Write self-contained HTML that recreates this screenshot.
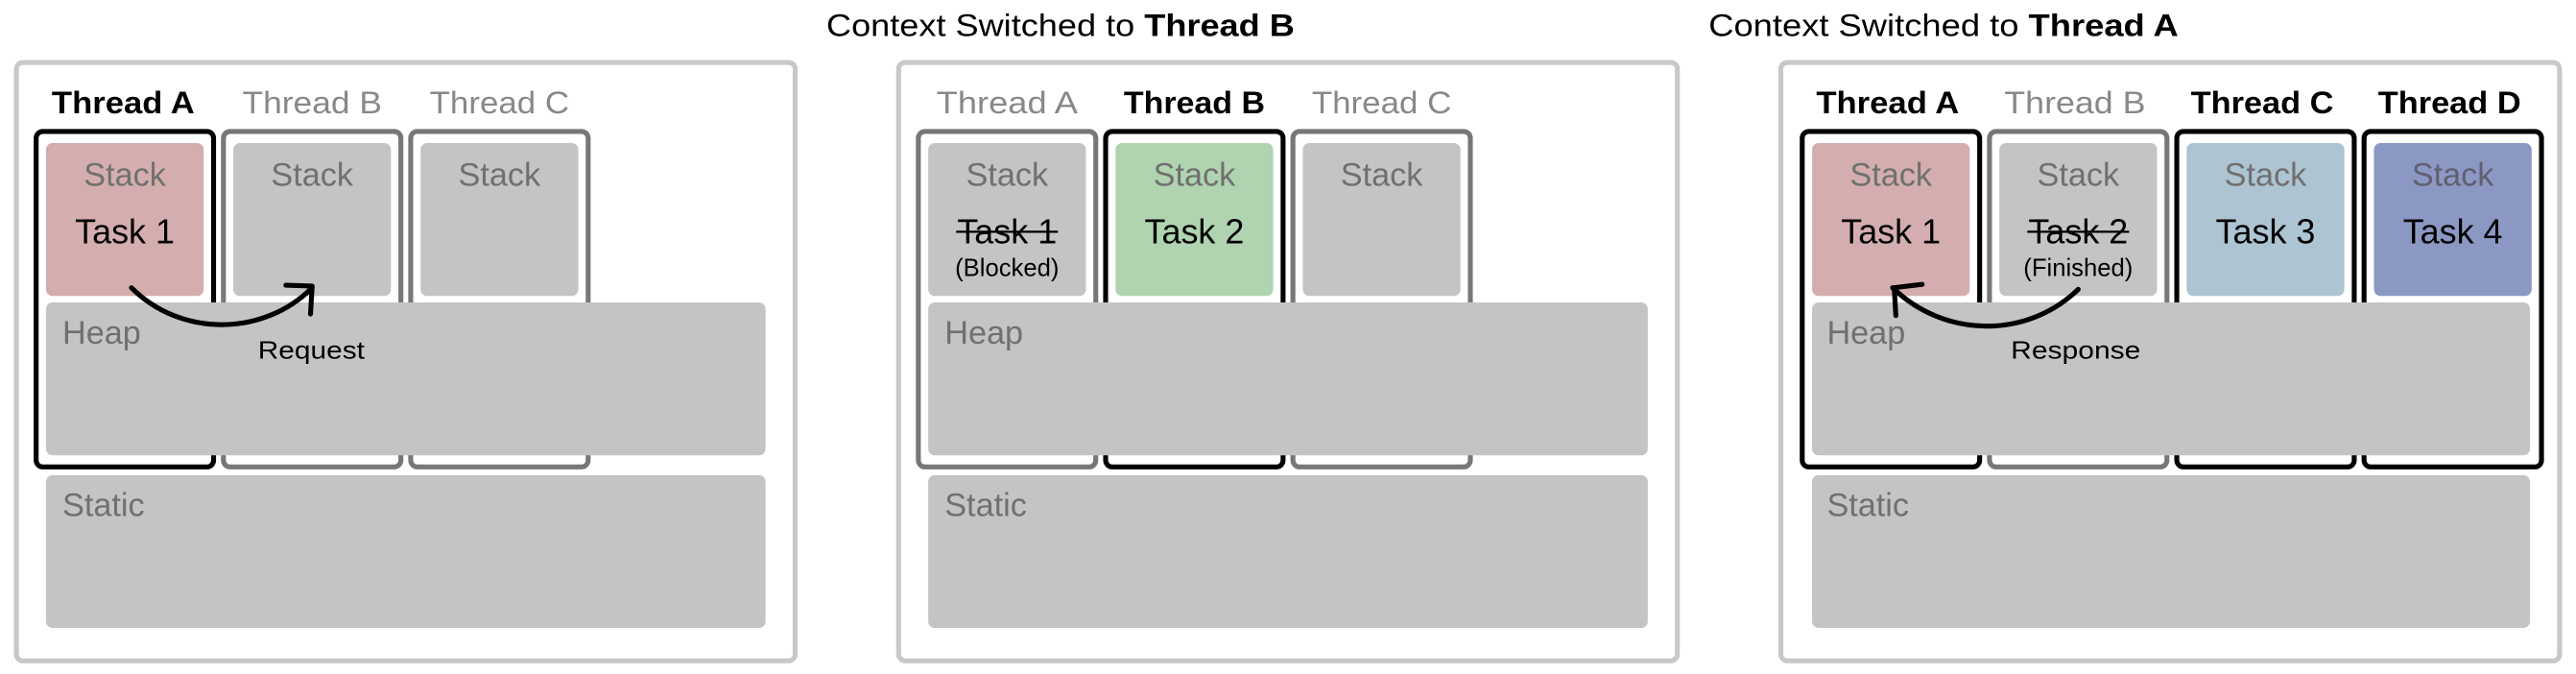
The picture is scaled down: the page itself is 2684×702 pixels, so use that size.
<!DOCTYPE html>
<html><head><meta charset="utf-8"><style>
html,body{margin:0;padding:0;background:#fff;}
svg{display:block;font-family:"Liberation Sans",sans-serif;}
</style></head><body>
<svg width="2684" height="702" viewBox="0 0 1568 410" preserveAspectRatio="none" xmlns="http://www.w3.org/2000/svg">
<rect width="1568" height="410" fill="#fff"/>
<!-- titles -->
<text x="503" y="22" font-size="19" fill="#000" textLength="285" lengthAdjust="spacingAndGlyphs">Context Switched to <tspan font-weight="bold">Thread B</tspan></text>
<text x="1040" y="22" font-size="19" fill="#000" textLength="286" lengthAdjust="spacingAndGlyphs">Context Switched to <tspan font-weight="bold">Thread A</tspan></text>

<!-- PANEL 1 -->
<g>
<rect x="10" y="38" width="474" height="364" rx="4" fill="#fff" stroke="#c8c8c8" stroke-width="3"/>
<text x="75" y="69" font-size="19" font-weight="bold" text-anchor="middle" textLength="87" lengthAdjust="spacingAndGlyphs">Thread A</text>
<text x="190" y="69" font-size="19" fill="#888" text-anchor="middle" textLength="85" lengthAdjust="spacingAndGlyphs">Thread B</text>
<text x="304" y="69" font-size="19" fill="#888" text-anchor="middle" textLength="85" lengthAdjust="spacingAndGlyphs">Thread C</text>
<rect x="22" y="80" width="108" height="204" rx="4" fill="#fff" stroke="#000" stroke-width="3"/>
<rect x="136" y="80" width="108" height="204" rx="4" fill="#fff" stroke="#777" stroke-width="3"/>
<rect x="250" y="80" width="108" height="204" rx="4" fill="#fff" stroke="#777" stroke-width="3"/>
<rect x="28" y="87" width="96" height="93" rx="4" fill="#d4aeae"/>
<rect x="142" y="87" width="96" height="93" rx="4" fill="#c4c4c4"/>
<rect x="256" y="87" width="96" height="93" rx="4" fill="#c4c4c4"/>
<text x="76" y="113" font-size="20" fill="#707070" text-anchor="middle">Stack</text>
<text x="190" y="113" font-size="20" fill="#707070" text-anchor="middle">Stack</text>
<text x="304" y="113" font-size="20" fill="#707070" text-anchor="middle">Stack</text>
<text x="76" y="148" font-size="21" fill="#000" text-anchor="middle">Task 1</text>
<rect x="28" y="184" width="438" height="93" rx="4" fill="#c4c4c4"/>
<rect x="28" y="289" width="438" height="93" rx="4" fill="#c4c4c4"/>
<text x="38" y="209" font-size="20" fill="#707070">Heap</text>
<text x="38" y="314" font-size="20" fill="#707070">Static</text>
<text x="157" y="218" font-size="15" fill="#000" textLength="65" lengthAdjust="spacingAndGlyphs">Request</text>
<path d="M80,175 C110,205 160,205 190,175" fill="none" stroke="#000" stroke-width="3" stroke-linecap="round"/>
<path d="M174,173.5 L190,174 L189,191" fill="none" stroke="#000" stroke-width="3" stroke-linecap="round" stroke-linejoin="round"/>
</g>

<!-- PANEL 2 -->
<g transform="translate(537,0)">
<rect x="10" y="38" width="474" height="364" rx="4" fill="#fff" stroke="#c8c8c8" stroke-width="3"/>
<text x="76" y="69" font-size="19" fill="#888" text-anchor="middle" textLength="86" lengthAdjust="spacingAndGlyphs">Thread A</text>
<text x="190" y="69" font-size="19" font-weight="bold" text-anchor="middle" textLength="86" lengthAdjust="spacingAndGlyphs">Thread B</text>
<text x="304" y="69" font-size="19" fill="#888" text-anchor="middle" textLength="85" lengthAdjust="spacingAndGlyphs">Thread C</text>
<rect x="22" y="80" width="108" height="204" rx="4" fill="#fff" stroke="#777" stroke-width="3"/>
<rect x="136" y="80" width="108" height="204" rx="4" fill="#fff" stroke="#000" stroke-width="3"/>
<rect x="250" y="80" width="108" height="204" rx="4" fill="#fff" stroke="#777" stroke-width="3"/>
<rect x="28" y="87" width="96" height="93" rx="4" fill="#c4c4c4"/>
<rect x="142" y="87" width="96" height="93" rx="4" fill="#b0d4b0"/>
<rect x="256" y="87" width="96" height="93" rx="4" fill="#c4c4c4"/>
<text x="76" y="113" font-size="20" fill="#707070" text-anchor="middle">Stack</text>
<text x="190" y="113" font-size="20" fill="#707070" text-anchor="middle">Stack</text>
<text x="304" y="113" font-size="20" fill="#707070" text-anchor="middle">Stack</text>
<text x="76" y="148" font-size="21" fill="#000" text-anchor="middle">Task 1</text>
<line x1="45" y1="141" x2="107" y2="141" stroke="#000" stroke-width="1.3"/>
<text x="76" y="168" font-size="15" fill="#000" text-anchor="middle">(Blocked)</text>
<text x="190" y="148" font-size="21" fill="#000" text-anchor="middle">Task 2</text>
<rect x="28" y="184" width="438" height="93" rx="4" fill="#c4c4c4"/>
<rect x="28" y="289" width="438" height="93" rx="4" fill="#c4c4c4"/>
<text x="38" y="209" font-size="20" fill="#707070">Heap</text>
<text x="38" y="314" font-size="20" fill="#707070">Static</text>
</g>

<!-- PANEL 3 -->
<g transform="translate(1074,0)">
<rect x="10" y="38" width="474" height="364" rx="4" fill="#fff" stroke="#c8c8c8" stroke-width="3"/>
<text x="75" y="69" font-size="19" font-weight="bold" text-anchor="middle" textLength="87" lengthAdjust="spacingAndGlyphs">Thread A</text>
<text x="189" y="69" font-size="19" fill="#888" text-anchor="middle" textLength="86" lengthAdjust="spacingAndGlyphs">Thread B</text>
<text x="303" y="69" font-size="19" font-weight="bold" text-anchor="middle" textLength="87" lengthAdjust="spacingAndGlyphs">Thread C</text>
<text x="417" y="69" font-size="19" font-weight="bold" text-anchor="middle" textLength="87" lengthAdjust="spacingAndGlyphs">Thread D</text>
<rect x="23" y="80" width="108" height="204" rx="4" fill="#fff" stroke="#000" stroke-width="3"/>
<rect x="137" y="80" width="108" height="204" rx="4" fill="#fff" stroke="#777" stroke-width="3"/>
<rect x="251" y="80" width="108" height="204" rx="4" fill="#fff" stroke="#000" stroke-width="3"/>
<rect x="365" y="80" width="108" height="204" rx="4" fill="#fff" stroke="#000" stroke-width="3"/>
<rect x="29" y="87" width="96" height="93" rx="4" fill="#d4aeae"/>
<rect x="143" y="87" width="96" height="93" rx="4" fill="#c4c4c4"/>
<rect x="257" y="87" width="96" height="93" rx="4" fill="#adc4d2"/>
<rect x="371" y="87" width="96" height="93" rx="4" fill="#8c98c4"/>
<text x="77" y="113" font-size="20" fill="#707070" text-anchor="middle">Stack</text>
<text x="191" y="113" font-size="20" fill="#707070" text-anchor="middle">Stack</text>
<text x="305" y="113" font-size="20" fill="#707070" text-anchor="middle">Stack</text>
<text x="419" y="113" font-size="20" fill="#606070" text-anchor="middle">Stack</text>
<text x="77" y="148" font-size="21" fill="#000" text-anchor="middle">Task 1</text>
<text x="191" y="148" font-size="21" fill="#000" text-anchor="middle">Task 2</text>
<line x1="160" y1="141" x2="222" y2="141" stroke="#000" stroke-width="1.3"/>
<text x="191" y="168" font-size="15" fill="#000" text-anchor="middle">(Finished)</text>
<text x="305" y="148" font-size="21" fill="#000" text-anchor="middle">Task 3</text>
<text x="419" y="148" font-size="21" fill="#000" text-anchor="middle">Task 4</text>
<rect x="29" y="184" width="437" height="93" rx="4" fill="#c4c4c4"/>
<rect x="29" y="289" width="437" height="93" rx="4" fill="#c4c4c4"/>
<text x="38" y="209" font-size="20" fill="#707070">Heap</text>
<text x="38" y="314" font-size="20" fill="#707070">Static</text>
<text x="150" y="218" font-size="15" fill="#000" textLength="79" lengthAdjust="spacingAndGlyphs">Response</text>
<path d="M191,176 C160,206 110,206 78,175" fill="none" stroke="#000" stroke-width="3" stroke-linecap="round"/>
<path d="M96,173 L79,175 L80,192" fill="none" stroke="#000" stroke-width="3" stroke-linecap="round" stroke-linejoin="round"/>
</g>
</svg>
</body></html>
